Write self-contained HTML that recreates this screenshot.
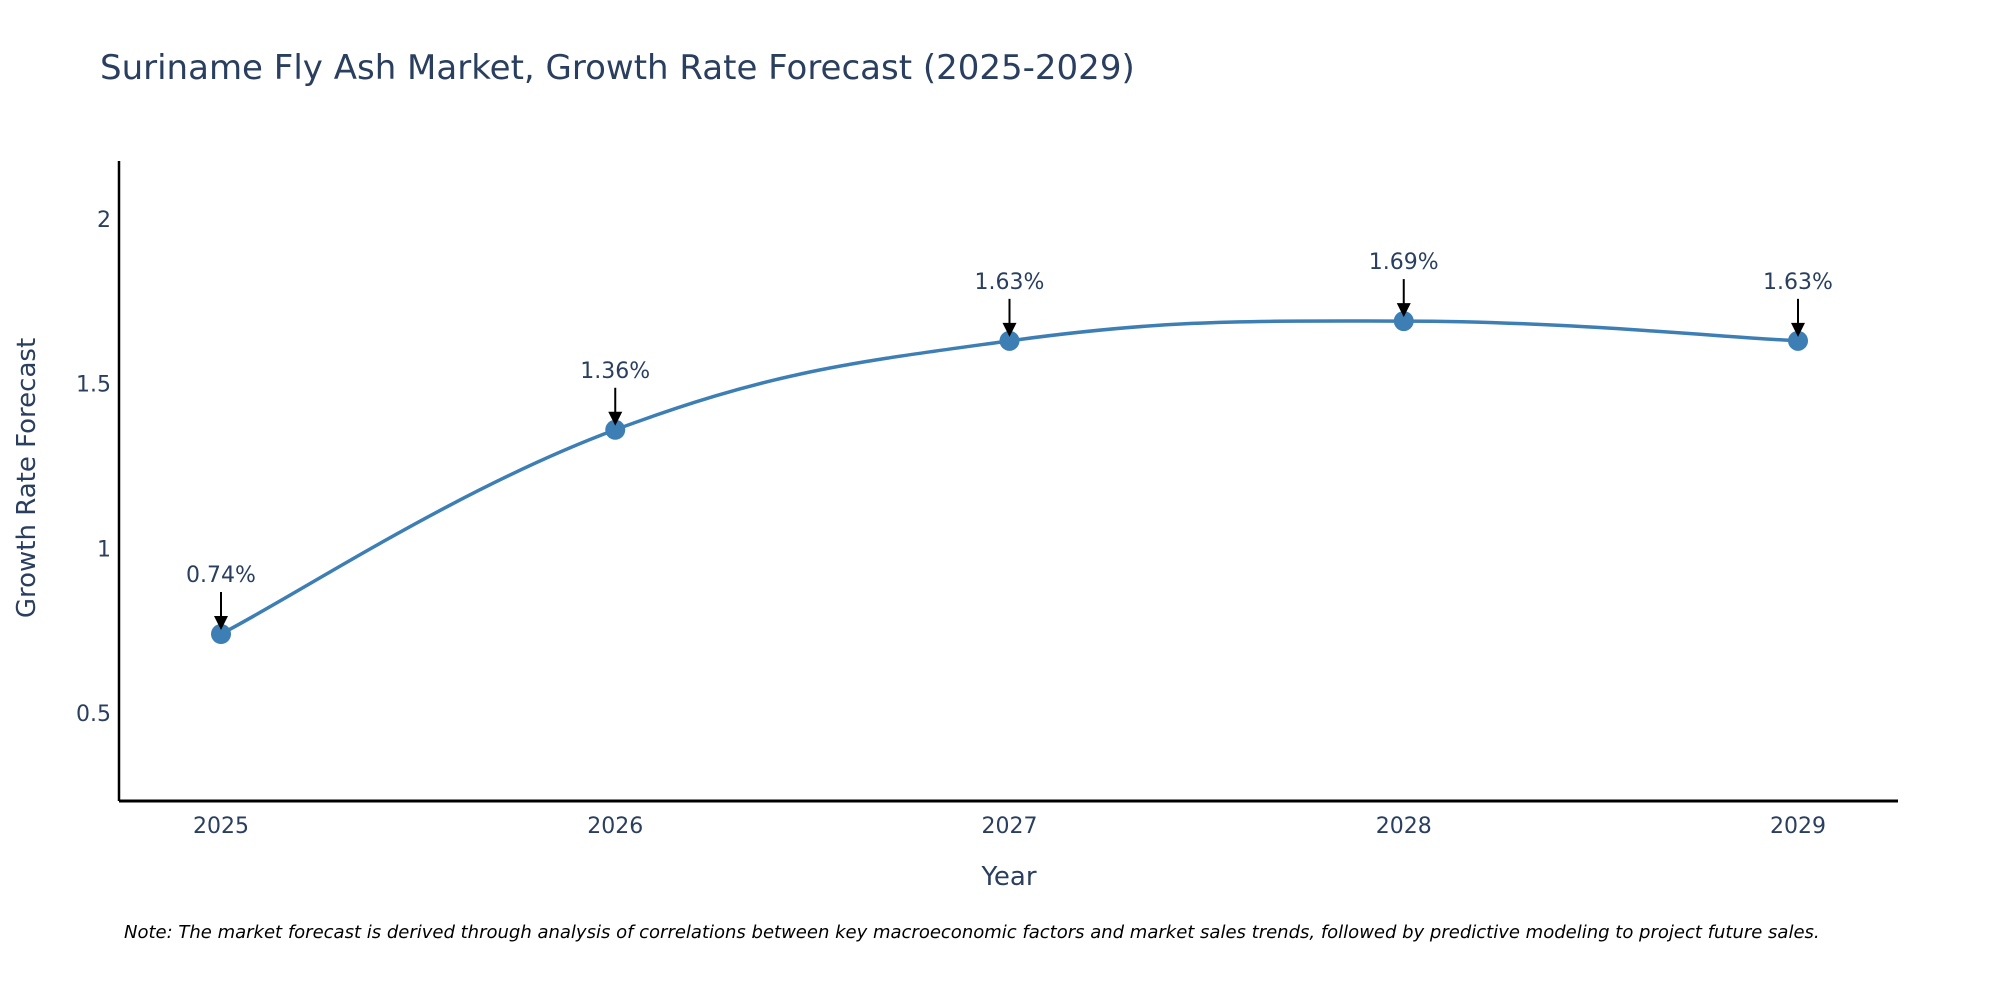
<!DOCTYPE html>
<html><head><meta charset="utf-8"><style>
body{margin:0;background:#fff;overflow:hidden;}
svg text{font-family:"DejaVu Sans","Liberation Sans",sans-serif;fill:#2a3f5f;}
</style></head><body>
<svg id="chart" width="2000" height="1000" xmlns="http://www.w3.org/2000/svg">
<text x="100" y="79" font-size="34">Suriname Fly Ash Market, Growth Rate Forecast (2025-2029)</text>
<g id="axes"></g>
<g id="marks"></g>
<text x="1009" y="885" font-size="26" text-anchor="middle">Year</text>
<text x="0" y="0" font-size="26" text-anchor="middle" transform="translate(35,478) rotate(-90)">Growth Rate Forecast</text>
<text x="124" y="938" font-size="18" font-style="italic" style="fill:#000">Note: The market forecast is derived through analysis of correlations between key macroeconomic factors and market sales trends, followed by predictive modeling to project future sales.</text>
</svg>
<script>
const years = [2025, 2026, 2027, 2028, 2029];
const values = [0.74, 1.36, 1.63, 1.69, 1.63];
const labels = ["0.74%", "1.36%", "1.63%", "1.69%", "1.63%"];
const yTicks = [0.5, 1, 1.5, 2];
const yTickLabels = ["0.5", "1", "1.5", "2"];

const NS = "http://www.w3.org/2000/svg";
const L = 119, R = 1898, T = 161, B = 801;
const X = y => 221 + (y - 2025) * (1798 - 221) / 4;
const Y = v => B - (v - 0.233) / (2.176 - 0.233) * (B - T);
function mk(tag, attrs, parent){const e=document.createElementNS(NS,tag);for(const k in attrs)e.setAttribute(k,attrs[k]);parent.appendChild(e);return e;}
const axes = document.getElementById('axes'), marks = document.getElementById('marks');
const ya = mk('line',{x1:L,y1:T,x2:L,y2:B,stroke:'#000','stroke-width':2.5},axes);


const xa = mk('line',{x1:L,y1:B,x2:R,y2:B,stroke:'#000','stroke-width':3},axes);


yTicks.forEach((v,i)=>{
  const t = mk('text',{x:111,y:Y(v)+8,'font-size':22,'text-anchor':'end'},axes);
  t.textContent = yTickLabels[i];
  
  
});
years.forEach(yr=>{
  const t = mk('text',{x:X(yr),y:833,'font-size':22,'text-anchor':'middle'},axes);
  t.textContent = yr;
  
  
});
const pts = years.map((yr,i)=>[X(yr),Y(values[i])]);
let d = `M${pts[0][0]},${pts[0][1]}`;
const s = 0.2;
for(let i=0;i<pts.length-1;i++){
  const p0=pts[Math.max(i-1,0)],p1=pts[i],p2=pts[i+1],p3=pts[Math.min(i+2,pts.length-1)];
  const c1=[p1[0]+(p2[0]-p0[0])*s,p1[1]+(p2[1]-p0[1])*s];
  const c2=[p2[0]-(p3[0]-p1[0])*s,p2[1]-(p3[1]-p1[1])*s];
  d+=` C${c1[0]},${c1[1]} ${c2[0]},${c2[1]} ${p2[0]},${p2[1]}`;
}
const line = mk('path',{d:d,fill:'none',stroke:'#3d7fb5','stroke-width':3.5},marks);


pts.forEach((p,i)=>{
  const c = mk('circle',{cx:p[0],cy:p[1],r:10,fill:'#3d7fb5'},marks);
  
  
  const a = mk('line',{x1:p[0],y1:p[1]-42,x2:p[0],y2:p[1]-14,stroke:'#000','stroke-width':2},marks);
  
  
  const h = mk('polygon',{points:`${p[0]-7},${p[1]-18} ${p[0]+7},${p[1]-18} ${p[0]},${p[1]-4}`,fill:'#000'},marks);
  
  
  const t = mk('text',{x:p[0],y:p[1]-52,'font-size':22,'text-anchor':'middle'},marks);
  t.textContent = labels[i];
  
  
});
</script>
</body></html>
